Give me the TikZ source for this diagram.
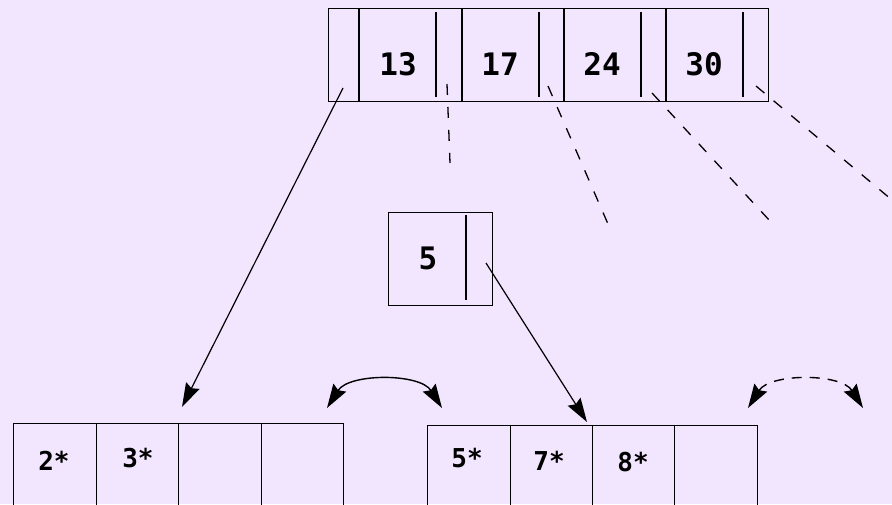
\documentclass[tikz,border=0pt]{standalone}
\usepackage{fontspec}
\setmonofont{DejaVu Sans Mono}
\usetikzlibrary{arrows.meta}
\definecolor{bg}{RGB}{242,230,255}
\begin{document}
\begin{tikzpicture}[x=1pt,y=-1pt,
  box/.style={draw,line width=1.2pt,inner sep=0pt,anchor=north west},
  tcell/.style={box,minimum height=93pt},
  bcell/.style={box,minimum height=110pt},
  sep/.style={line width=2pt},
  ptr/.style={line width=1.2pt},
  toplbl/.style={font=\ttfamily\bfseries\fontsize{31}{31}\selectfont,inner sep=0pt},
  botlbl/.style={font=\ttfamily\bfseries\fontsize{26}{26}\selectfont,inner sep=0pt},
  dashline/.style={line width=1.3pt,dash pattern=on 11pt off 12pt},
  link/.style={line width=1.2pt,-{Stealth[length=24pt,width=15pt,inset=3pt]}},
  sib/.style={line width=1.4pt,{Stealth[length=24pt,width=15pt,inset=3pt]}-{Stealth[length=24pt,width=15pt,inset=3pt]}}
]
\fill[bg] (0,0) rectangle (892,504);
\useasboundingbox (0,0) rectangle (892,504);
\clip (0,0) rectangle (892,504);
% top index node
\node[tcell,minimum width=31pt] (p0) at (328,8) {};
\node[tcell,minimum width=103pt] (k13) at (359,8) {};
\node[tcell,minimum width=102pt] (k17) at (462,8) {};
\node[tcell,minimum width=102pt] (k24) at (564,8) {};
\node[tcell,minimum width=102pt] (k30) at (666,8) {};
\foreach \c in {k13,k17,k24,k30}{
  \draw[sep] (\c.north west) -- (\c.south west);
  \draw[ptr] ([shift={(77,4)}]\c.north west) -- ([shift={(77,-5)}]\c.south west);
}
\node[toplbl] (t13) at (398,64) {13};
\node[toplbl] (t17) at (500,64) {17};
\node[toplbl] (t24) at (602,64) {24};
\node[toplbl] (t30) at (704,64) {30};
% dashed pointers
\coordinate (d1s) at (447,84); \coordinate (d1e) at (450,163);
\coordinate (d2s) at (548,86); \coordinate (d2e) at (608,224);
\coordinate (d3s) at (652,93); \coordinate (d3e) at (770,221);
\coordinate (d4s) at (756,86); \coordinate (d4e) at (892,200);
\draw[dashline] (d1s) -- (d1e);
\draw[dashline] (d2s) -- (d2e);
\draw[dashline] (d3s) -- (d3e);
\draw[dashline] (d4s) -- (d4e);
% middle node
\node[box,minimum width=104pt,minimum height=93pt] (m) at (388,212) {};
\draw[ptr] ([shift={(78,3)}]m.north west) -- ([shift={(78,-6)}]m.south west);
\node[toplbl] (t5) at (428,258) {5};
% bottom left leaf
\node[bcell,minimum width=83pt] (a1) at (13,423) {};
\node[bcell,minimum width=82pt] (a2) at (96,423) {};
\node[bcell,minimum width=83pt] (a3) at (178,423) {};
\node[bcell,minimum width=82pt] (a4) at (261,423) {};
\node[botlbl] (l2) at (54,461) {2*};
\node[botlbl] (l3) at (138,458) {3*};
% bottom right leaf
\node[bcell,minimum width=83pt] (b1) at (427,425) {};
\node[bcell,minimum width=82pt] (b2) at (510,425) {};
\node[bcell,minimum width=82pt] (b3) at (592,425) {};
\node[bcell,minimum width=83pt] (b4) at (674,425) {};
\node[botlbl] (l5) at (467,458) {5*};
\node[botlbl] (l7) at (549,461) {7*};
\node[botlbl] (l8) at (633,462) {8*};
% child links
\coordinate (s1) at (343,88); \coordinate (e1) at (182,407);
\coordinate (s2) at (486,263); \coordinate (e2) at (587,422);
\draw[link] (s1) -- (e1);
\draw[link] (s2) -- (e2);
% sibling links
\coordinate (q1) at (327,408); \coordinate (q2) at (442,408);
\coordinate (r1) at (748,408); \coordinate (r2) at (863,408);
\draw[sib] (q1) .. controls (349,373) and (420,373) .. (q2);
\draw[sib,dash pattern=on 10pt off 8pt] (r1) .. controls (770,373) and (841,373) .. (r2);
\end{tikzpicture}
\end{document}
